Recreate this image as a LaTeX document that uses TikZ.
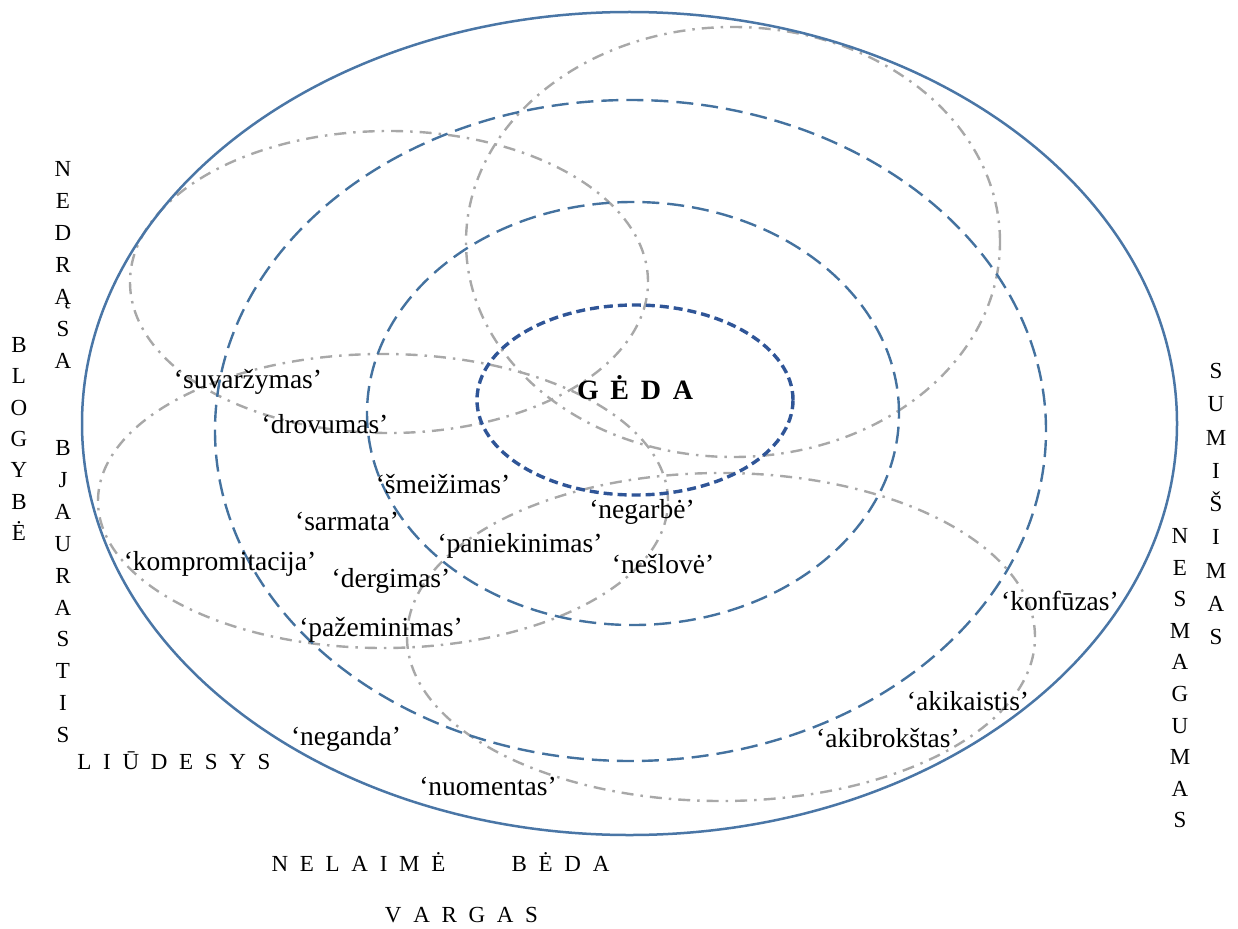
\documentclass[tikz,border=0pt]{standalone}
\usepackage{fontspec}
\setmainfont{Liberation Serif}
\definecolor{outerblue}{HTML}{4A76A6}
\definecolor{dashblue}{HTML}{44729F}
\definecolor{innerblue}{HTML}{2F5597}
\definecolor{ellgray}{HTML}{A8A8A8}
\newcommand\lsp{\hspace{11.7pt}}
\begin{document}
\begin{tikzpicture}[x=1pt,y=-1pt,
  outerell/.style={draw=outerblue,line width=2.5pt},
  bluedash/.style={draw=dashblue,line width=2.4pt,dash pattern=on 17pt off 8pt},
  innerdash/.style={draw=innerblue,line width=3.4pt,dash pattern=on 9pt off 5pt},
  graydd/.style={draw=ellgray,line width=2.4pt,dash pattern=on 12pt off 7pt on 2.5pt off 7pt},
  word/.style={font=\fontsize{27.5}{31}\selectfont,anchor=base,inner sep=0pt},
  capl/.style={font=\fontsize{23}{28}\selectfont,anchor=base,inner sep=0pt},
  bigword/.style={font=\fontsize{28}{32}\selectfont\bfseries,anchor=base,inner sep=0pt}]
\useasboundingbox (0,0) rectangle (1238,928);

% gray dash-dot ellipses
\draw[graydd] (389,282) ellipse [x radius=259pt, y radius=151pt];
\draw[graydd] (733,242) ellipse [x radius=267pt, y radius=215pt];
\draw[graydd] (383,501) ellipse [x radius=285pt, y radius=147pt];
\draw[graydd] (721,637) ellipse [x radius=314pt, y radius=164pt];

% blue ellipses
\draw[outerell] (629.5,423.5) ellipse [x radius=547.5pt, y radius=411.5pt];
\draw[bluedash] (630.5,430.5) ellipse [x radius=415.5pt, y radius=330.5pt];
\draw[bluedash] (633,413.5) ellipse [x radius=266pt, y radius=211.5pt];
\draw[innerdash] (635,400) ellipse [x radius=158pt, y radius=95pt];

% centre
\node[bigword] (geda) at (635,399) {G\lsp Ė\lsp D\lsp A};

% quoted words
\node[word] (suv) at (248,388) {‘suvaržymas’};
\node[word] (dro) at (325,433) {‘drovumas’};
\node[word] (sme) at (443,493) {‘šmeižimas’};
\node[word] (sar) at (347,530) {‘sarmata’};
\node[word] (neg) at (642,518) {‘negarbė’};
\node[word] (pan) at (520,552) {‘paniekinimas’};
\node[word] (nes) at (663,573) {‘nešlovė’};
\node[word] (der) at (391,587) {‘dergimas’};
\node[word] (paz) at (381,636) {‘pažeminimas’};
\node[word] (kom) at (220,570) {‘kompromitacija’};
\node[word] (kon) at (1060,610) {‘konfūzas’};
\node[word] (aki) at (968,710) {‘akikaistis’};
\node[word] (akb) at (888,747) {‘akibrokštas’};
\node[word] (nga) at (346,745) {‘neganda’};
\node[word] (nuo) at (488,795) {‘nuomentas’};

% horizontal capital labels
\node[capl] (liu) at (174,769.5) {L\lsp I\lsp Ū\lsp D\lsp E\lsp S\lsp Y\lsp S};
\node[capl] (nel) at (358.5,871) {N\lsp E\lsp L\lsp A\lsp I\lsp M\lsp Ė};
\node[capl] (bed) at (560.5,871) {B\lsp Ė\lsp D\lsp A};
\node[capl] (var) at (461.5,922) {V\lsp A\lsp R\lsp G\lsp A\lsp S};

% vertical capital labels
\foreach \l [count=\i] in {B,L,O,G,Y,B,Ė}
  \node[capl] (blog\i) at (19,352.5+31.3*\i-31.3) {\l};
\foreach \l [count=\i] in {N,E,D,R,Ą,S,A}
  \node[capl] (nedr\i) at (63,176.5+32*\i-32) {\l};
\foreach \l [count=\i] in {B,J,A,U,R,A,S,T,I,S}
  \node[capl] (bjau\i) at (63,455.5+31.9*\i-31.9) {\l};
\foreach \l [count=\i] in {S,U,M,I,Š,I,M,A,S}
  \node[capl] (sumi\i) at (1216,378.5+33.25*\i-33.25) {\l};
\foreach \l [count=\i] in {N,E,S,M,A,G,U,M,A,S}
  \node[capl] (nesm\i) at (1180,543.5+31.6*\i-31.6) {\l};
\end{tikzpicture}
\end{document}
